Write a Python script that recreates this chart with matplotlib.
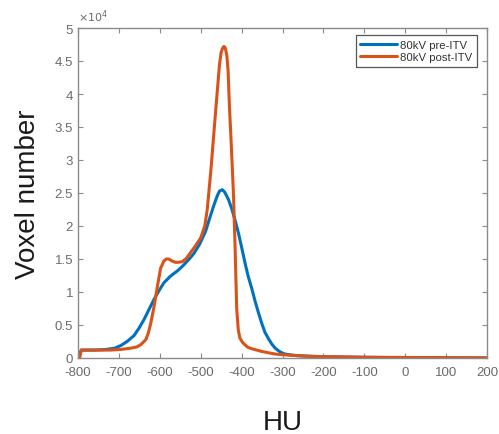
import matplotlib
matplotlib.use("Agg")
import matplotlib.pyplot as plt
from matplotlib.ticker import FixedLocator, FuncFormatter

# ---- data (voxel counts in units of 1e4) ----
pre_hu = [-800, -792, -760, -730, -710, -695, -680, -663, -650, -638, -626, -614,
          -602, -590, -574, -557, -543, -528, -517, -503, -488, -478, -468, -460,
          -454, -447, -441, -432, -424, -416, -408, -400, -392, -384, -375, -367,
          -359, -351, -343, -334, -326, -318, -310, -302, -294, -278, -261, -230,
          -200, -100, 0, 100, 200]
pre_val = [0.0, 0.12, 0.12, 0.13, 0.15, 0.19, 0.25, 0.34, 0.46, 0.59, 0.74, 0.89,
           1.02, 1.14, 1.24, 1.32, 1.40, 1.50, 1.58, 1.72, 1.92, 2.12, 2.31, 2.45,
           2.53, 2.55, 2.51, 2.40, 2.26, 2.09, 1.90, 1.68, 1.45, 1.24, 1.05, 0.86,
           0.69, 0.53, 0.39, 0.29, 0.21, 0.15, 0.11, 0.08, 0.06, 0.045, 0.035, 0.025,
           0.02, 0.01, 0.005, 0.003, 0.0]

post_hu = [-800, -796, -792, -760, -720, -695, -670, -655, -645, -634, -628, -622,
           -614, -606, -598, -590, -584, -578, -570, -562, -555, -545, -535, -528,
           -515, -500, -490, -484, -475, -467, -460, -454, -450, -446, -443, -440,
           -436, -433, -430, -425, -420, -416, -412, -408, -404, -398, -392, -384,
           -375, -363, -351, -335, -318, -300, -277, -250, -200, -100, 0, 100, 200]
post_val = [0.0, 0.0, 0.12, 0.12, 0.12, 0.13, 0.15, 0.17, 0.21, 0.28, 0.38, 0.53,
            0.78, 1.08, 1.36, 1.47, 1.50, 1.50, 1.47, 1.45, 1.45, 1.46, 1.51, 1.57,
            1.68, 1.82, 2.00, 2.25, 2.85, 3.47, 4.00, 4.45, 4.63, 4.70, 4.72, 4.70,
            4.58, 4.35, 3.85, 3.20, 2.50, 1.70, 0.75, 0.42, 0.30, 0.24, 0.20, 0.16,
            0.14, 0.12, 0.10, 0.08, 0.06, 0.05, 0.04, 0.03, 0.02, 0.012, 0.008, 0.005,
            0.003]

series_labels = ["80kV pre-ITV", "80kV post-ITV"]
x_ticks = [-800, -700, -600, -500, -400, -300, -200, -100, 0, 100, 200]
y_ticks = [0, 0.5, 1, 1.5, 2, 2.5, 3, 3.5, 4, 4.5, 5]
scale = 1e4

plt.rcParams['font.family'] = ['Liberation Sans', 'DejaVu Sans']

fig = plt.figure(figsize=(4.99, 4.35), dpi=100)
W, H = 499, 435
ax = fig.add_axes([78 / W, 1 - 359 / H, (487 - 78) / W, (359 - 29) / H])

ax.plot(pre_hu, [v * scale for v in pre_val], color='#0072BD', lw=2.2,
        label=series_labels[0], solid_joinstyle='round', solid_capstyle='round')
ax.plot(post_hu, [v * scale for v in post_val], color='#D95319', lw=2.2,
        label=series_labels[1], solid_joinstyle='round', solid_capstyle='round')

ax.set_xlim(-800, 200)
ax.set_ylim(0, 5 * scale)
ax.xaxis.set_major_locator(FixedLocator(x_ticks))
ax.yaxis.set_major_locator(FixedLocator([t * scale for t in y_ticks]))
ax.yaxis.set_major_formatter(FuncFormatter(lambda v, p: f"{v / scale:g}"))
ax.xaxis.set_major_formatter(FuncFormatter(lambda v, p: f"{v:g}"))

gray = '#6a6a6a'
for s in ax.spines.values():
    s.set_color('#8a8a8a')
    s.set_linewidth(1.0)
ax.tick_params(direction='in', top=True, right=True, length=3.5, width=0.8,
               colors='#8a8a8a', labelcolor=gray, labelsize=9.5)
ax.tick_params(axis='x', pad=6)
ax.tick_params(axis='y', pad=3.5)

ax.text(0.0, 1.012, r'$\times10^4$', transform=ax.transAxes, fontsize=8,
        color=gray, ha='left', va='bottom')

ax.set_xlabel('HU', fontsize=20, color='#1a1a1a', labelpad=22)
ax.set_ylabel('Voxel number', fontsize=20, color='#1a1a1a', labelpad=10)

leg = ax.legend(loc='upper right', bbox_to_anchor=(1 - 10 / 409, 1 - 7 / 330),
                borderaxespad=0, fontsize=8.2, handlelength=3.2,
                handletextpad=0.3, labelspacing=0.25, borderpad=0.4,
                fancybox=False, framealpha=1, edgecolor='#555555')
leg.get_frame().set_linewidth(0.9)
for t in leg.get_texts():
    t.set_color('#333333')

fig.savefig('out.png', dpi=100)
